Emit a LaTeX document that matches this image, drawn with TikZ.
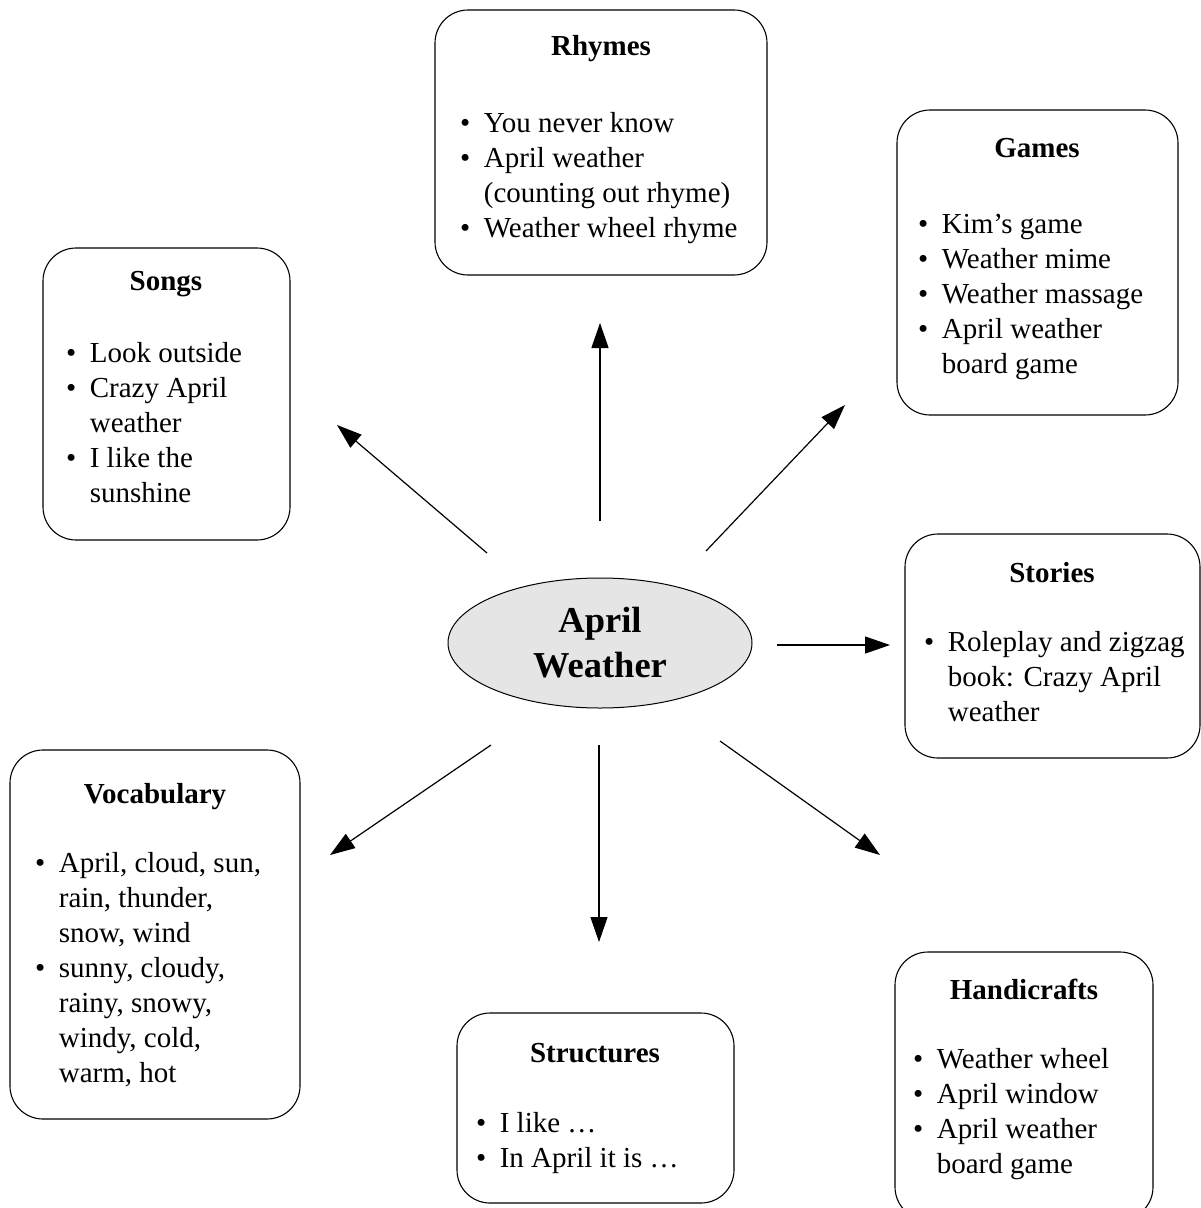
\documentclass[tikz,border=0pt]{standalone}
\usepackage{fontspec}
\setmainfont{Liberation Serif}
\usetikzlibrary{arrows.meta,shapes.geometric}
\newcommand{\blist}[1]{\begin{tabular}[t]{@{}l@{\hspace{13.5pt}}l@{}}#1\end{tabular}}
\begin{document}
\begin{tikzpicture}[x=1pt,y=-1pt,
  box/.style={draw, line width=1.1pt, rounded corners=33pt, inner sep=0pt},
  ttl/.style={anchor=base, inner sep=0pt, font=\fontsize{29}{35}\selectfont\bfseries},
  lst/.style={anchor=base west, inner sep=0pt, font=\fontsize{29}{35}\selectfont},
  hub/.style={ellipse, draw, line width=1pt, fill=black!10, inner sep=0pt,
    minimum width=304pt, minimum height=130pt, align=center,
    font=\fontsize{36.5}{45}\selectfont\bfseries},
  arr/.style={line width=1.2pt, -{Triangle[length=25pt,width=17pt]}}
]
\path[use as bounding box] (0,0) rectangle (1201,1208);
\clip (0,0) rectangle (1201,1208);

% boxes
\node[box, minimum width=332pt, minimum height=265pt] (rhymes) at (601,142.5) {};
\node[box, minimum width=281pt, minimum height=305pt] (games) at (1037.5,262.5) {};
\node[box, minimum width=247pt, minimum height=292pt] (songs) at (166.5,394) {};
\node[box, minimum width=295pt, minimum height=224pt] (stories) at (1052.5,646) {};
\node[box, minimum width=290pt, minimum height=369pt] (vocab) at (155,934.5) {};
\node[box, minimum width=277pt, minimum height=190pt] (struct) at (595.5,1108) {};
\node[box, minimum width=258pt, minimum height=268pt] (handi) at (1024,1086) {};

% titles
\node[ttl] (rhymesT) at (601,55) {Rhymes};
\node[ttl] (gamesT) at (1037,157) {Games};
\node[ttl] (songsT) at (166,290) {Songs};
\node[ttl] (storiesT) at (1052,582) {Stories};
\node[ttl] (vocabT) at (155,803) {Vocabulary};
\node[ttl] (structT) at (595,1062) {Structures};
\node[ttl] (handiT) at (1024,999) {Handicrafts};

% lists
\node[lst] (rhymesL) at (460,132) {\blist{%
  \textbullet & You never know\\
  \textbullet & April weather\\
              & (counting out rhyme)\\
  \textbullet & Weather wheel rhyme}};
\node[lst] (gamesL) at (918,233) {\blist{%
  \textbullet & Kim’s game\\
  \textbullet & Weather mime\\
  \textbullet & Weather massage\\
  \textbullet & April weather\\
              & board game}};
\node[lst] (songsL) at (66,362) {\blist{%
  \textbullet & Look outside\\
  \textbullet & Crazy April\\
              & weather\\
  \textbullet & I like the\\
              & sunshine}};
\node[lst] (storiesL) at (924,651) {\blist{%
  \textbullet & Roleplay and zigzag\\
              & book: Crazy April\\
              & weather}};
\node[lst] (vocabL) at (35,872) {\blist{%
  \textbullet & April, cloud, sun,\\
              & rain, thunder,\\
              & snow, wind\\
  \textbullet & sunny, cloudy,\\
              & rainy, snowy,\\
              & windy, cold,\\
              & warm, hot}};
\node[lst] (structL) at (476,1132) {\blist{%
  \textbullet & I like …\\
  \textbullet & In April it is …}};
\node[lst] (handiL) at (913,1068) {\blist{%
  \textbullet & Weather wheel\\
  \textbullet & April window\\
  \textbullet & April weather\\
              & board game}};

% hub
\node[hub] (hubN) at (600,643) {April\\Weather};

% arrows
\coordinate (uS) at (600,521);  \coordinate (uE) at (600,323);
\coordinate (urS) at (706,551); \coordinate (urE) at (845,405);
\coordinate (ulS) at (487,553); \coordinate (ulE) at (337,425);
\coordinate (rS) at (777,645);  \coordinate (rE) at (890,645);
\coordinate (dlS) at (491,745); \coordinate (dlE) at (330,855);
\coordinate (dS) at (599,745);  \coordinate (dE) at (599,942);
\coordinate (drS) at (720,741); \coordinate (drE) at (880,855);
\draw[arr] (uS) -- (uE);
\draw[arr] (urS) -- (urE);
\draw[arr] (ulS) -- (ulE);
\draw[arr] (rS) -- (rE);
\draw[arr] (dlS) -- (dlE);
\draw[arr] (dS) -- (dE);
\draw[arr] (drS) -- (drE);
\end{tikzpicture}
\end{document}
